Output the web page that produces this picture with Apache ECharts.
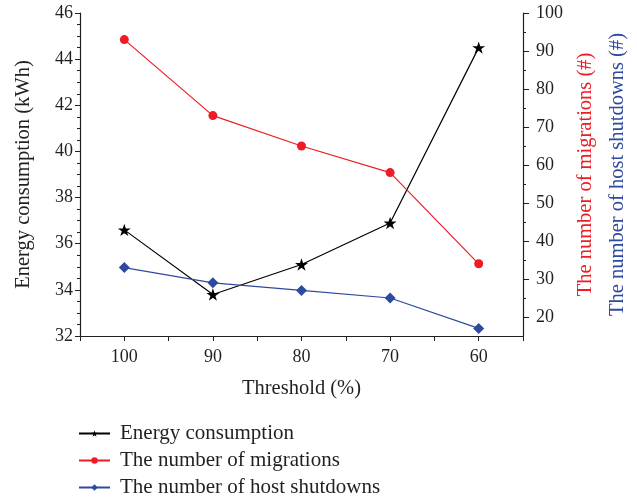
<!DOCTYPE html>
<html>
<head>
<meta charset="utf-8">
<script src="https://cdn.jsdelivr.net/npm/echarts@6/dist/echarts.min.js"></script>
<style>
  html, body { margin: 0; padding: 0; background: #fff; }
  #chart { width: 637px; height: 498px; }
</style>
</head>
<body>
<div id="chart"></div>
<script>
// Threshold values on the horizontal axis (plotted high to low)
const thresholds = [100, 90, 80, 70, 60];
// Energy consumption in kWh (left axis)
const energy = [36.6, 33.8, 35.1, 36.9, 44.5];
// Number of VM migrations (right axis)
const migrations = [93, 73, 65, 58, 34];
// Number of host shutdowns (right axis)
const shutdowns = [33, 29, 27, 25, 17];

const rightMajorTicks = [20, 30, 40, 50, 60, 70, 80, 90, 100];
const rightMinorTicks = [25, 35, 45, 55, 65, 75, 85, 95];

const FONT = '"Liberation Serif", "DejaVu Serif", serif';
const INK = '#231f20';
const RED = '#ed1c24';
const BLUE = '#2e4a9e';
const TICK_SIZE = 18;
const TITLE_SIZE = 20.5;
const STAR = 'path://M0,-10 L2.245,-3.09 L9.51,-3.09 L3.633,1.18 L5.88,8.09 L0,3.82 L-5.88,8.09 L-3.633,1.18 L-9.51,-3.09 L-2.245,-3.09 Z';

const pairs = vals => thresholds.map((t, i) => [t, vals[i]]);

const chart = echarts.init(document.getElementById('chart'), null, { renderer: 'canvas' });

chart.setOption({
  animation: false,
  backgroundColor: '#fff',
  textStyle: { fontFamily: FONT, color: INK },
  grid: { left: 80, right: 114, top: 13, bottom: 162, containLabel: false },
  xAxis: {
    type: 'value',
    min: 55, max: 105, interval: 5,
    inverse: true,
    name: 'Threshold (%)',
    nameLocation: 'middle',
    nameGap: 42,
    nameTextStyle: { fontFamily: FONT, fontSize: TITLE_SIZE, color: INK },
    axisLine: { show: true, lineStyle: { color: INK, width: 1.2 } },
    axisTick: { show: true, length: 5, lineStyle: { color: INK } },
    axisLabel: {
      fontFamily: FONT, fontSize: TICK_SIZE, color: INK, margin: 12,
      formatter: v => (v % 10 === 0 && v >= 60 && v <= 100) ? String(v) : ''
    },
    splitLine: { show: false }
  },
  yAxis: [
    {
      type: 'value',
      min: 32, max: 46, interval: 2,
      position: 'left',
      name: 'Energy consumption (kWh)',
      nameLocation: 'middle',
      nameGap: 46,
      nameTextStyle: { fontFamily: FONT, fontSize: TITLE_SIZE, color: INK },
      axisLine: { show: true, lineStyle: { color: INK, width: 1.2 } },
      axisTick: { show: true, length: 5, lineStyle: { color: INK } },
      minorTick: { show: true, splitNumber: 4, length: 3, lineStyle: { color: INK } },
      axisLabel: { fontFamily: FONT, fontSize: TICK_SIZE, color: INK, margin: 7 },
      splitLine: { show: false }
    },
    {
      type: 'value',
      min: 15, max: 100, interval: 5,
      position: 'right',
      name: 'The number of migrations (#)',
      nameLocation: 'middle',
      nameRotate: 90,
      nameGap: 52,
      nameTextStyle: { fontFamily: FONT, fontSize: TITLE_SIZE, color: RED },
      axisLine: { show: true, lineStyle: { color: INK, width: 1.2 } },
      axisTick: { show: true, length: 6, customValues: rightMajorTicks, lineStyle: { color: INK } },
      axisLabel: { fontFamily: FONT, fontSize: TICK_SIZE, color: INK, margin: 13, customValues: rightMajorTicks },
      splitLine: { show: false }
    },
    {
      type: 'value',
      min: 15, max: 100, interval: 5,
      position: 'right',
      name: 'The number of host shutdowns (#)',
      nameLocation: 'middle',
      nameRotate: 90,
      nameGap: 84,
      nameTextStyle: { fontFamily: FONT, fontSize: TITLE_SIZE, color: BLUE },
      axisLine: { show: false },
      axisTick: { show: true, length: 3, customValues: rightMinorTicks, lineStyle: { color: INK } },
      axisLabel: { show: false },
      splitLine: { show: false }
    }
  ],
  legend: {
    orient: 'vertical',
    left: 78, top: 423,
    padding: 0,
    itemWidth: 31, itemHeight: 8, itemGap: 6,
    textStyle: { fontFamily: FONT, fontSize: 21, color: INK, lineHeight: 20, padding: [0, 0, 0, 5] },
    data: ['Energy consumption', 'The number of migrations', 'The number of host shutdowns']
  },
  series: [
    {
      name: 'Energy consumption',
      type: 'line',
      yAxisIndex: 0,
      data: pairs(energy),
      symbol: STAR, symbolSize: 13, symbolKeepAspect: true,
      itemStyle: { color: '#000' },
      lineStyle: { color: '#000', width: 1.2 }
    },
    {
      name: 'The number of migrations',
      type: 'line',
      yAxisIndex: 1,
      data: pairs(migrations),
      symbol: 'circle', symbolSize: 9,
      itemStyle: { color: RED },
      lineStyle: { color: RED, width: 1.2 }
    },
    {
      name: 'The number of host shutdowns',
      type: 'line',
      yAxisIndex: 1,
      data: pairs(shutdowns),
      symbol: 'diamond', symbolSize: 11,
      itemStyle: { color: BLUE },
      lineStyle: { color: BLUE, width: 1.2 }
    }
  ]
});
</script>
</body>
</html>
